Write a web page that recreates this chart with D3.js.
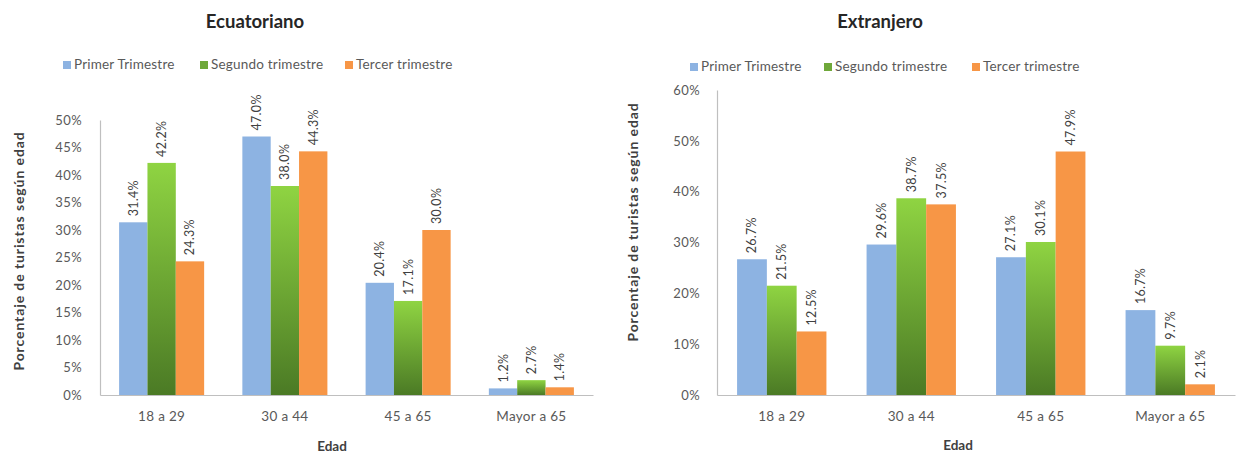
<!DOCTYPE html>
<html>
<head>
<meta charset="utf-8">
<script src="https://cdn.jsdelivr.net/npm/d3@7"></script>
<style>
  html, body { margin: 0; padding: 0; background: #ffffff; }
  svg { display: block; font-family: Lato, "Open Sans", sans-serif; }
</style>
</head>
<body>
<svg id="chart" width="1243" height="454"></svg>
<script>
// ---- data ----
const categories = ["18 a 29", "30 a 44", "45 a 65", "Mayor a 65"];
const seriesNames = ["Primer Trimestre", "Segundo trimestre", "Tercer trimestre"];

const ecuatorianoPrimer = [31.4, 47.0, 20.4, 1.2];
const ecuatorianoSegundo = [42.2, 38.0, 17.1, 2.7];
const ecuatorianoTercer = [24.3, 44.3, 30.0, 1.4];

const extranjeroPrimer = [26.7, 29.6, 27.1, 16.7];
const extranjeroSegundo = [21.5, 38.7, 30.1, 9.7];
const extranjeroTercer = [12.5, 37.5, 47.9, 2.1];

const ecuatorianoTicks = [0, 5, 10, 15, 20, 25, 30, 35, 40, 45, 50];
const extranjeroTicks = [0, 10, 20, 30, 40, 50, 60];

const titles = ["Ecuatoriano", "Extranjero"];
const xTitle = "Edad";
const yTitle = "Porcentaje de turistas según edad";

// ---- drawing ----
const svg = d3.select("#chart");
const defs = svg.append("defs");
const grad = defs.append("linearGradient").attr("id", "greenGrad")
  .attr("x1", 0).attr("y1", 0).attr("x2", 0).attr("y2", 1);
grad.append("stop").attr("offset", "0%").attr("stop-color", "#8fd442");
grad.append("stop").attr("offset", "100%").attr("stop-color", "#4b7a25");

const fills = ["#8db3e2", "url(#greenGrad)", "#f79646"];
const legendColors = ["#8db3e2", "#6fa83a", "#f79646"];
const textColor = "#595959";

function drawChart(opt) {
  const g = svg.append("g");
  const series = opt.series;
  const x0 = d3.scaleBand().domain(categories).range([opt.left, opt.right]).paddingInner(0.31).paddingOuter(0.155);
  const x1 = d3.scaleBand().domain(seriesNames).range([0, x0.bandwidth()]);
  const y = d3.scaleLinear().domain([0, opt.max]).range([opt.bottom, opt.top]);

  // title
  g.append("text").attr("x", opt.titleX).attr("y", opt.titleY)
    .attr("text-anchor", "middle").attr("font-size", 18.5).attr("font-weight", "bold")
    .attr("fill", "#262626").text(opt.title);

  // legend
  seriesNames.forEach((name, i) => {
    const lx = opt.legendX[i];
    g.append("rect").attr("x", lx).attr("y", opt.legendY - 8).attr("width", 8).attr("height", 8)
      .attr("fill", legendColors[i]);
    g.append("text").attr("x", lx + 11).attr("y", opt.legendY).attr("font-size", 13.5)
      .attr("letter-spacing", 0.2).attr("fill", textColor).text(name);
  });

  // y axis
  const yAxis = d3.axisLeft(y).tickValues(opt.ticks).tickSize(0).tickPadding(0)
    .tickFormat(d => d + "%");
  const ya = g.append("g").attr("transform", `translate(${opt.left},0)`).call(yAxis);
  ya.select(".domain").attr("stroke", "#bfbfbf").attr("stroke-width", 1.2);
  ya.selectAll("text").attr("x", -(opt.left - opt.tickRight)).attr("font-size", 13)
    .attr("letter-spacing", 0.4).attr("fill", textColor).attr("font-family", "Lato, sans-serif");

  // x axis
  const xAxis = d3.axisBottom(x0).tickSize(0).tickPadding(16);
  const xa = g.append("g").attr("transform", `translate(0,${opt.bottom})`).call(xAxis);
  xa.select(".domain").attr("stroke", "#bfbfbf").attr("stroke-width", 1.2);
  xa.selectAll("text").attr("font-size", 13.5).attr("letter-spacing", 0.3).attr("fill", textColor)
    .attr("font-family", "Lato, sans-serif");

  // bars
  categories.forEach((cat, ci) => {
    series.forEach((vals, si) => {
      const v = vals[ci];
      const bx = x0(cat) + x1(seriesNames[si]);
      const bw = x1.bandwidth();
      g.append("rect").attr("x", bx).attr("y", y(v)).attr("width", bw)
        .attr("height", y(0) - y(v)).attr("fill", fills[si]);
      const cx = bx + bw / 2;
      const ty = y(v) - 6;
      g.append("text").attr("transform", `translate(${cx + 4.5},${ty}) rotate(-90)`)
        .attr("font-size", 12.5).attr("letter-spacing", 0.3).attr("fill", "#404040")
        .attr("text-anchor", "start").text(v.toFixed(1) + "%");
    });
  });

  // axis titles
  g.append("text").attr("x", opt.xTitleX).attr("y", opt.xTitleY).attr("text-anchor", "middle")
    .attr("font-size", 13.5).attr("font-weight", "bold").attr("fill", "#404040").text(xTitle);
  g.append("text").attr("transform", `translate(${opt.yTitleX},${opt.yTitleY}) rotate(-90)`)
    .attr("text-anchor", "middle").attr("font-size", 14).attr("letter-spacing", 0.9)
    .attr("font-weight", "bold").attr("fill", "#404040").text(yTitle);
}

drawChart({
  title: titles[0], titleX: 255, titleY: 28,
  legendX: [63, 200, 345], legendY: 69,
  series: [ecuatorianoPrimer, ecuatorianoSegundo, ecuatorianoTercer],
  ticks: ecuatorianoTicks, max: 50,
  left: 100, right: 593, top: 120, bottom: 395, tickRight: 82,
  xTitleX: 332, xTitleY: 451, yTitleX: 24, yTitleY: 251
});

drawChart({
  title: titles[1], titleX: 880, titleY: 28,
  legendX: [690, 824, 972], legendY: 71,
  series: [extranjeroPrimer, extranjeroSegundo, extranjeroTercer],
  ticks: extranjeroTicks, max: 60,
  left: 717, right: 1235, top: 90, bottom: 395, tickRight: 700,
  xTitleX: 958, xTitleY: 450, yTitleX: 638, yTitleY: 222
});
</script>
</body>
</html>
